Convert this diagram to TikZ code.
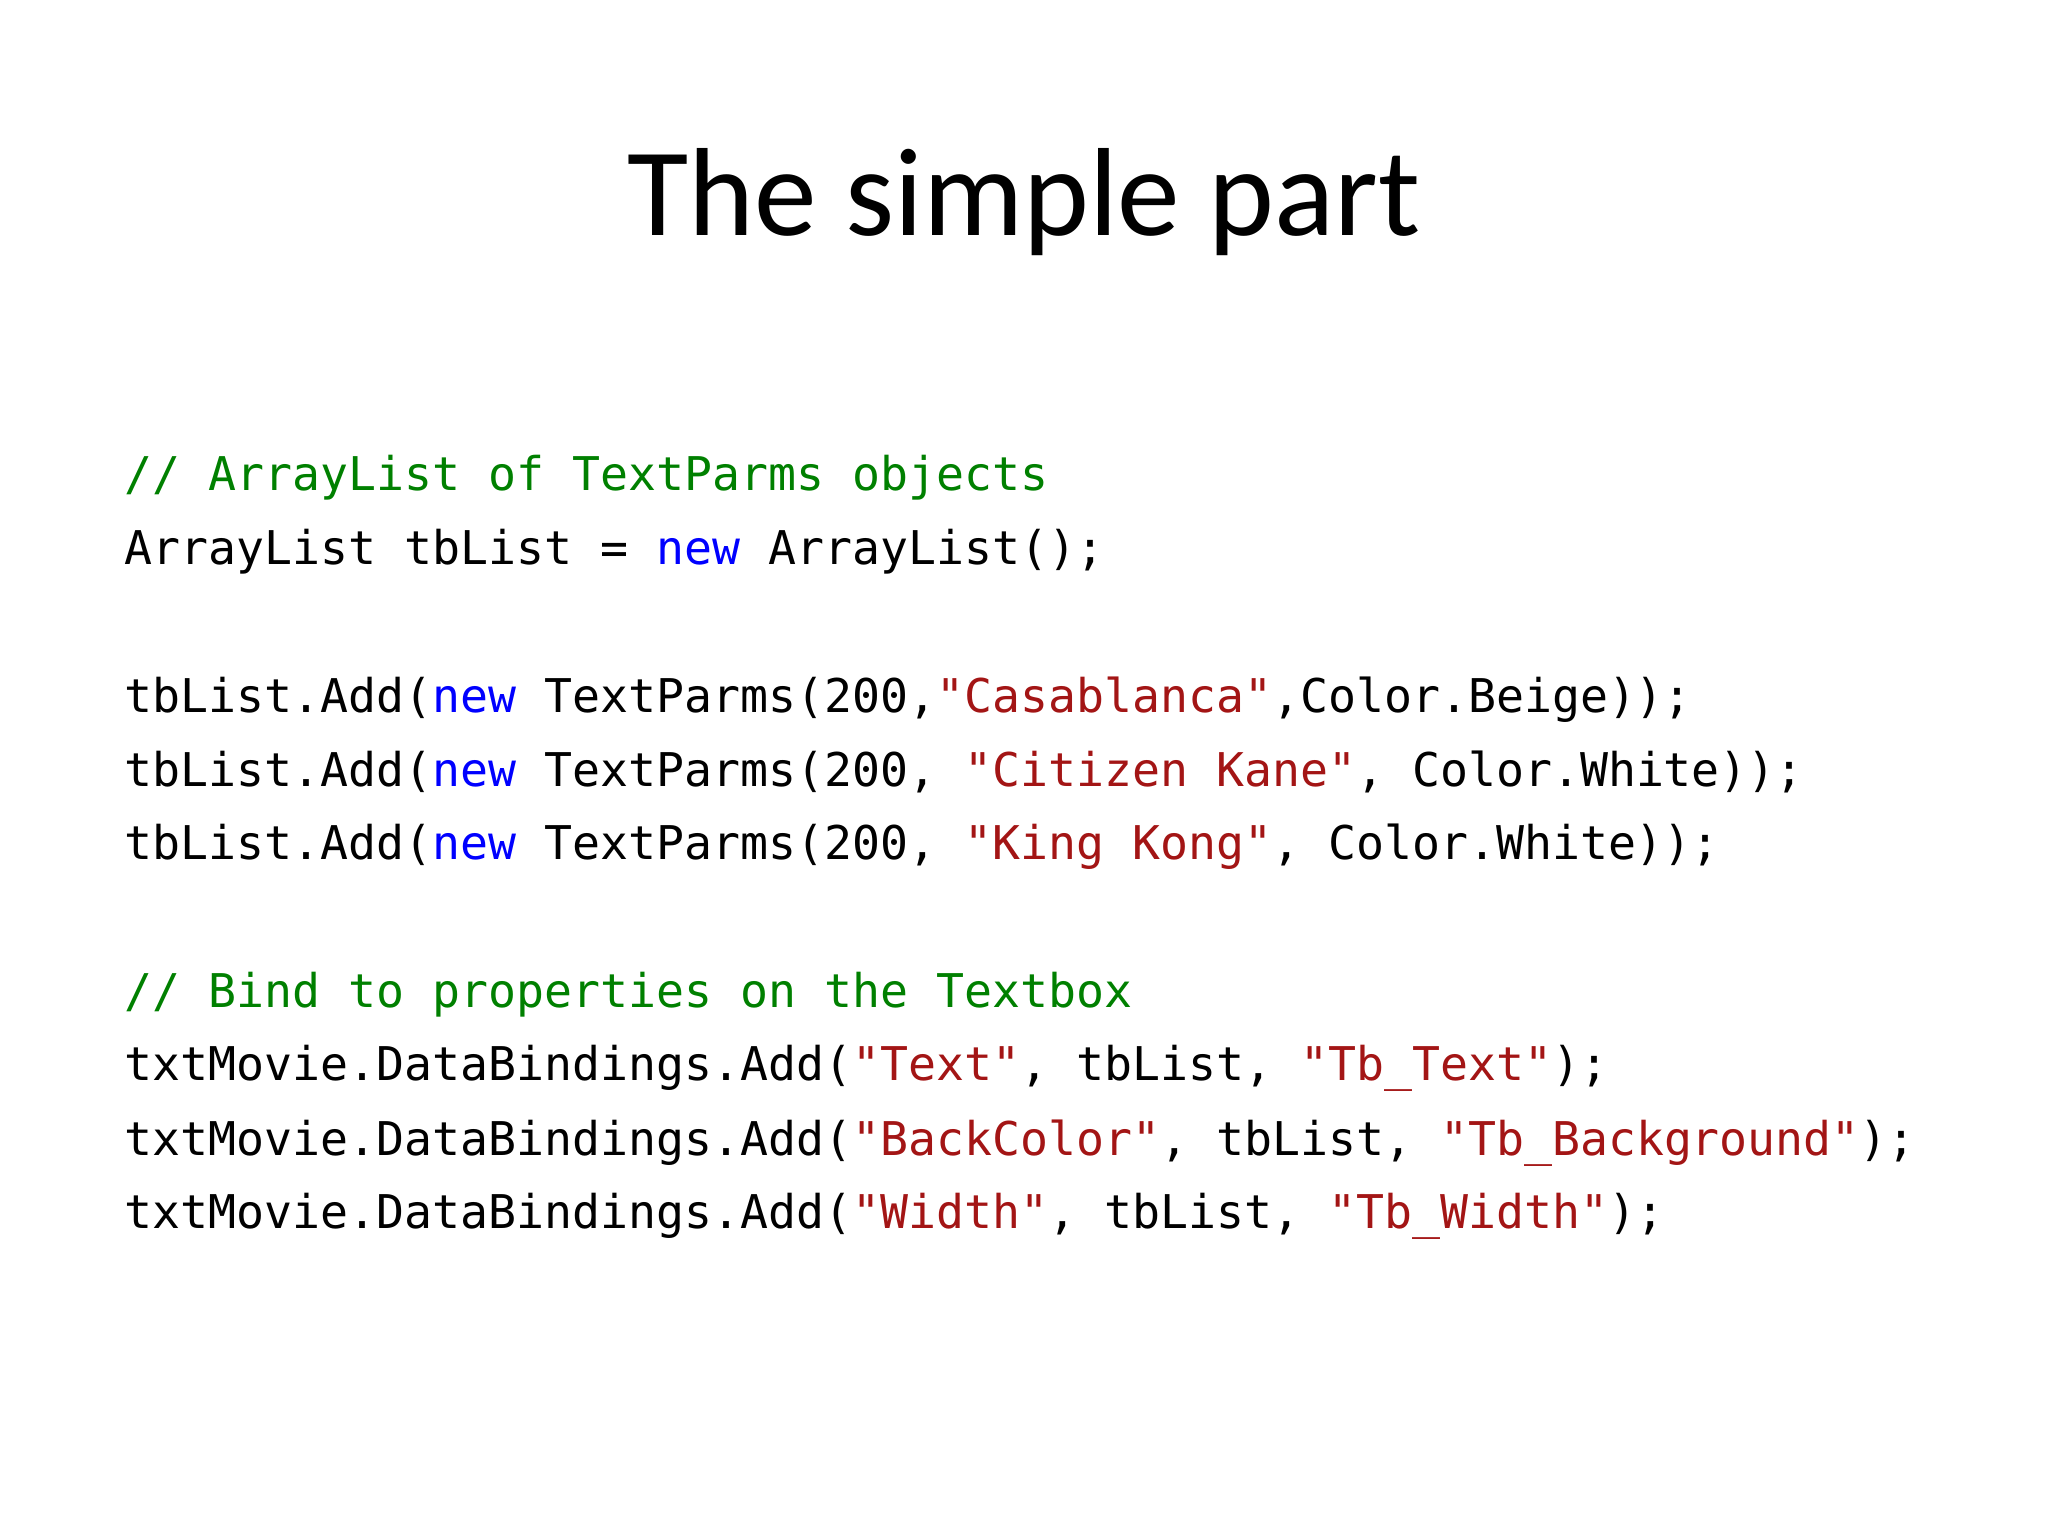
\documentclass[tikz,border=0pt]{standalone}
\usepackage{fontspec}
\setmainfont{Carlito}
\newfontfamily\codefont{DejaVu Sans Mono}
\definecolor{cgreen}{HTML}{008000}
\definecolor{cblue}{HTML}{0000FF}
\definecolor{cred}{HTML}{A31515}
\begin{document}
\begin{tikzpicture}[x=1pt,y=1pt,
  code/.style={anchor=mid west,inner sep=0pt,font=\codefont\fontsize{35.6}{40}\selectfont}]
\useasboundingbox (0,0) rectangle (1568,-1176);
\newcommand{\kw}[1]{\textcolor{cblue}{#1}}
\newcommand{\st}[1]{\textcolor{cred}{#1}}
\node[anchor=base,inner sep=0pt,font=\fontsize{96}{110}\selectfont] (title) at (784,-180) {The simple part};
\node[code,text=cgreen] (l1) at (95,-373) {// ArrayList of TextParms objects};
\node[code] (l2) at (95,-430) {ArrayList tbList = \kw{new} ArrayList();};
\node[code] (l3) at (95,-543) {tbList.Add(\kw{new} TextParms(200,\st{"Casablanca"},Color.Beige));};
\node[code] (l4) at (95,-600) {tbList.Add(\kw{new} TextParms(200, \st{"Citizen Kane"}, Color.White));};
\node[code] (l5) at (95,-656) {tbList.Add(\kw{new} TextParms(200, \st{"King Kong"}, Color.White));};
\node[code,text=cgreen] (l6) at (95,-769) {// Bind to properties on the Textbox};
\node[code] (l7) at (95,-825) {txtMovie.DataBindings.Add(\st{"Text"}, tbList, \st{"Tb\_Text"});};
\node[code] (l8) at (95,-882) {txtMovie.DataBindings.Add(\st{"BackColor"}, tbList, \st{"Tb\_Background"});};
\node[code] (l9) at (95,-938) {txtMovie.DataBindings.Add(\st{"Width"}, tbList, \st{"Tb\_Width"});};
\end{tikzpicture}
\end{document}
